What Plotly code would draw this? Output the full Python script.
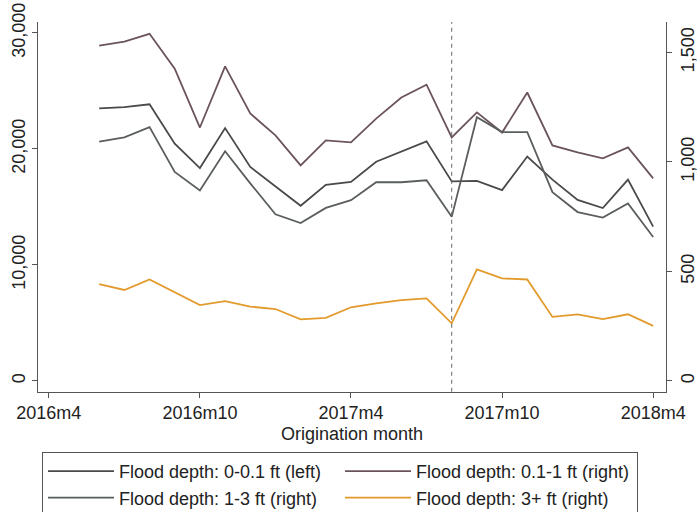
import plotly.graph_objects as go

# Monthly mortgage originations by flood-depth band
months = ["2016m6", "2016m7", "2016m8", "2016m9", "2016m10", "2016m11", "2016m12",
          "2017m1", "2017m2", "2017m3", "2017m4", "2017m5", "2017m6", "2017m7",
          "2017m8", "2017m9", "2017m10", "2017m11", "2017m12",
          "2018m1", "2018m2", "2018m3", "2018m4"]

depth_0_01 = [23500, 23600, 23850, 20450, 18350, 21800, 18450, 16800, 15100, 16900,
              17150, 18900, 19750, 20650, 17200, 17250, 16450, 19350, 17350,
              15600, 14900, 17350, 13300]
depth_01_1 = [1531, 1549, 1585, 1426, 1157, 1436, 1221, 1121, 984, 1098,
              1089, 1198, 1294, 1353, 1112, 1226, 1134, 1317, 1075,
              1043, 1016, 1066, 925]
depth_1_3 = [1093, 1112, 1159, 954, 870, 1049, 902, 761, 721, 790,
             825, 907, 907, 916, 749, 1204, 1136, 1136, 862,
             771, 746, 810, 657]
depth_3plus = [442, 415, 463, 405, 346, 364, 339, 328, 281, 288,
               336, 354, 369, 377, 263, 509, 468, 463, 292,
               304, 282, 304, 251]

tick_labels = ["2016m4", "2016m10", "2017m4", "2017m10", "2018m4"]
event_month = "2017m8"
left_ticks = [0, 10000, 20000, 30000]
right_ticks = [0, 500, 1000, 1500]


def month_index(label):
    """Stata-style monthly index, counted from 2016m4."""
    y, m = label.split("m")
    return (int(y) - 2016) * 12 + int(m) - 4


x = [month_index(m) for m in months]
tick_vals = [month_index(t) for t in tick_labels]

fig = go.Figure()
fig.add_trace(go.Scatter(x=x, y=depth_0_01, mode="lines", yaxis="y",
                         name="Flood depth: 0-0.1 ft (left)",
                         line=dict(color="#4a4a4a", width=1.8)))
fig.add_trace(go.Scatter(x=x, y=depth_01_1, mode="lines", yaxis="y2",
                         name="Flood depth: 0.1-1 ft (right)",
                         line=dict(color="#6b545b", width=1.8)))
fig.add_trace(go.Scatter(x=x, y=depth_1_3, mode="lines", yaxis="y2",
                         name="Flood depth: 1-3 ft (right)",
                         line=dict(color="#5a5f5c", width=1.8)))
fig.add_trace(go.Scatter(x=x, y=depth_3plus, mode="lines", yaxis="y2",
                         name="Flood depth: 3+ ft (right)",
                         line=dict(color="#e39a2c", width=1.8)))

ev = month_index(event_month)
fig.add_shape(type="line", xref="x", yref="paper", x0=ev, x1=ev, y0=0, y1=1,
              line=dict(color="#666", width=1, dash="4px,4px"))

axis_common = dict(showline=True, linecolor="#555", linewidth=1, ticks="outside",
                   ticklen=5, tickcolor="#555", showgrid=False, zeroline=False)

fig.update_layout(
    width=698, height=512,
    margin=dict(l=38, r=28, t=22, b=120),
    paper_bgcolor="white", plot_bgcolor="white",
    font=dict(family="Liberation Sans, Arial, sans-serif", size=18, color="#222"),
    xaxis=dict(range=[-0.43, 24.51], tickvals=tick_vals, ticktext=tick_labels,
               title=dict(text="Origination month", standoff=4, font=dict(size=18)),
               **axis_common),
    yaxis=dict(range=[-948, 30948], tickvals=left_ticks, tickformat=",",
               tickangle=-90, automargin=False, **axis_common),
    yaxis2=dict(range=[-50, 1639], tickvals=right_ticks, tickformat=",",
                tickangle=-90, overlaying="y", side="right", automargin=False,
                **axis_common),
    legend=dict(orientation="h", xref="container", x=42 / 698,
                yref="container", y=1 - 452 / 512, xanchor="left", yanchor="top",
                bordercolor="#555", borderwidth=1, bgcolor="white",
                itemwidth=66, entrywidth=216, traceorder="normal",
                font=dict(size=18)),
    showlegend=True,
)

fig.write_html("out.html")
